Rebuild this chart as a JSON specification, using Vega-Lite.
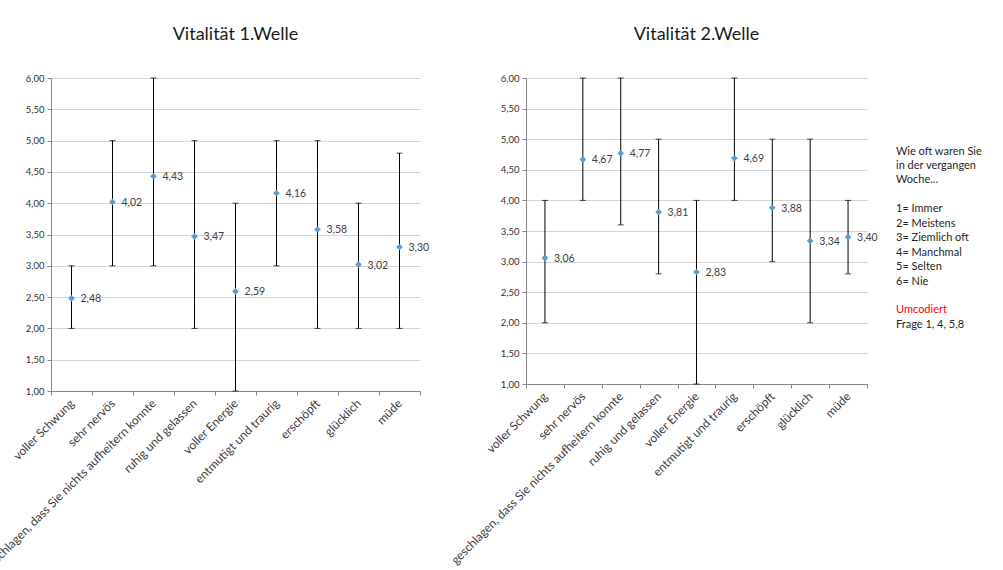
{
  "$schema": "https://vega.github.io/schema/vega-lite/v6.json",
  "background": "white",
  "padding": {"left": -19, "top": 26, "right": 5, "bottom": 0},
  "config": {
    "locale": {"number": {"decimal": ",", "thousands": ".", "grouping": [3], "currency": ["", " €"]}},
    "font": "Lato",
    "view": {"stroke": null},
    "title": {"fontSize": 18, "fontWeight": "normal", "color": "#1a1a1a", "font": "Lato", "offset": 29},
    "axisY": {"values": [1, 1.5, 2, 2.5, 3, 3.5, 4, 4.5, 5, 5.5, 6], "format": ".2f", "grid": true, "gridColor": "#D4D4D4", "domainColor": "#8A8A8A", "tickColor": "#8A8A8A", "tickSize": 4, "labelFontSize": 9.5, "labelColor": "#333333", "labelPadding": 3, "title": null},
    "axisX": {"labelAngle": -45, "labelBaseline": "middle", "tickBand": "extent", "grid": false, "domainColor": "#8A8A8A", "tickColor": "#8A8A8A", "tickSize": 4, "labelFontSize": 12, "labelColor": "#404040", "labelLimit": 400, "labelPadding": 6, "title": null}
  },
  "datasets": {
    "welle1": [
      {"item": "voller Schwung", "mean": 2.48, "min": 2, "max": 3},
      {"item": "sehr nervös", "mean": 4.02, "min": 3, "max": 5},
      {"item": "geschlagen, dass Sie nichts aufheitern konnte", "mean": 4.43, "min": 3, "max": 6},
      {"item": "ruhig und gelassen", "mean": 3.47, "min": 2, "max": 5},
      {"item": "voller Energie", "mean": 2.59, "min": 1, "max": 4},
      {"item": "entmutigt und traurig", "mean": 4.16, "min": 3, "max": 5},
      {"item": "erschöpft", "mean": 3.58, "min": 2, "max": 5},
      {"item": "glücklich", "mean": 3.02, "min": 2, "max": 4},
      {"item": "müde", "mean": 3.30, "min": 2, "max": 4.8}
    ],
    "welle2": [
      {"item": "voller Schwung", "mean": 3.06, "min": 2, "max": 4},
      {"item": "sehr nervös", "mean": 4.67, "min": 4, "max": 6},
      {"item": "geschlagen, dass Sie nichts aufheitern konnte", "mean": 4.77, "min": 3.6, "max": 6},
      {"item": "ruhig und gelassen", "mean": 3.81, "min": 2.8, "max": 5},
      {"item": "voller Energie", "mean": 2.83, "min": 1, "max": 4},
      {"item": "entmutigt und traurig", "mean": 4.69, "min": 4, "max": 6},
      {"item": "erschöpft", "mean": 3.88, "min": 3, "max": 5},
      {"item": "glücklich", "mean": 3.34, "min": 2, "max": 5},
      {"item": "müde", "mean": 3.40, "min": 2.8, "max": 4}
    ],
    "hinweis": [
      {"zeile": "Wie oft waren Sie", "nr": 0, "art": "text"},
      {"zeile": "in der vergangen", "nr": 1, "art": "text"},
      {"zeile": "Woche...", "nr": 2, "art": "text"},
      {"zeile": "1= Immer", "nr": 4, "art": "text"},
      {"zeile": "2= Meistens", "nr": 5, "art": "text"},
      {"zeile": "3= Ziemlich oft", "nr": 6, "art": "text"},
      {"zeile": "4= Manchmal", "nr": 7, "art": "text"},
      {"zeile": "5= Selten", "nr": 8, "art": "text"},
      {"zeile": "6= Nie", "nr": 9, "art": "text"},
      {"zeile": "Umcodiert", "nr": 11, "art": "rot"},
      {"zeile": "Frage 1, 4, 5,8", "nr": 12, "art": "text"}
    ]
  },
  "bounds": "flush",
  "spacing": 106,
  "hconcat": [
    {
      "title": "Vitalität 1.Welle",
      "width": 369,
      "height": 313,
      "data": {"name": "welle1"},
      "encoding": {"x": {"field": "item", "type": "nominal", "sort": null, "scale": {"paddingInner": 0, "paddingOuter": 0}}},
      "layer": [
        {"mark": {"type": "rule", "color": "black", "strokeWidth": 1}, "encoding": {"y": {"field": "min", "type": "quantitative", "scale": {"domain": [1, 6], "nice": false, "zero": false}}, "y2": {"field": "max"}}},
        {"mark": {"type": "tick", "color": "black", "size": 6, "thickness": 1}, "encoding": {"y": {"field": "min", "type": "quantitative"}}},
        {"mark": {"type": "tick", "color": "black", "size": 6, "thickness": 1}, "encoding": {"y": {"field": "max", "type": "quantitative"}}},
        {"mark": {"type": "point", "shape": "diamond", "filled": true, "color": "#5B9BD5", "size": 45, "opacity": 1}, "encoding": {"y": {"field": "mean", "type": "quantitative"}}},
        {"mark": {"type": "text", "align": "left", "baseline": "middle", "dx": 9, "dy": 1, "fontSize": 10.5, "color": "#404040"}, "encoding": {"y": {"field": "mean", "type": "quantitative"}, "text": {"field": "mean", "type": "quantitative", "format": ".2f"}}}
      ]
    },
    {
      "bounds": "flush",
      "spacing": 29,
      "hconcat": [
        {
          "title": "Vitalität 2.Welle",
          "width": 341,
          "height": 306,
          "data": {"name": "welle2"},
          "encoding": {"x": {"field": "item", "type": "nominal", "sort": null, "scale": {"paddingInner": 0, "paddingOuter": 0}}},
          "layer": [
            {"mark": {"type": "rule", "color": "black", "strokeWidth": 1}, "encoding": {"y": {"field": "min", "type": "quantitative", "scale": {"domain": [1, 6], "nice": false, "zero": false}}, "y2": {"field": "max"}}},
            {"mark": {"type": "tick", "color": "black", "size": 6, "thickness": 1}, "encoding": {"y": {"field": "min", "type": "quantitative"}}},
            {"mark": {"type": "tick", "color": "black", "size": 6, "thickness": 1}, "encoding": {"y": {"field": "max", "type": "quantitative"}}},
            {"mark": {"type": "point", "shape": "diamond", "filled": true, "color": "#5B9BD5", "size": 45, "opacity": 1}, "encoding": {"y": {"field": "mean", "type": "quantitative"}}},
            {"mark": {"type": "text", "align": "left", "baseline": "middle", "dx": 9, "dy": 1, "fontSize": 10.5, "color": "#404040"}, "encoding": {"y": {"field": "mean", "type": "quantitative"}, "text": {"field": "mean", "type": "quantitative", "format": ".2f"}}}
          ]
        },
        {
          "width": 100,
          "height": 306,
          "data": {"name": "hinweis"},
          "mark": {"type": "text", "align": "left", "baseline": "middle", "fontSize": 11},
          "encoding": {
            "x": {"datum": 0, "type": "quantitative", "scale": {"domain": [0, 1]}, "axis": null},
            "y": {"field": "nr", "type": "quantitative", "scale": {"domain": [-5.1, 16.1], "reverse": true, "nice": false, "zero": false}, "axis": null},
            "text": {"field": "zeile", "type": "nominal"},
            "color": {"field": "art", "type": "nominal", "scale": {"domain": ["text", "rot"], "range": ["#262626", "#FF0000"]}, "legend": null}
          }
        }
      ]
    }
  ]
}
